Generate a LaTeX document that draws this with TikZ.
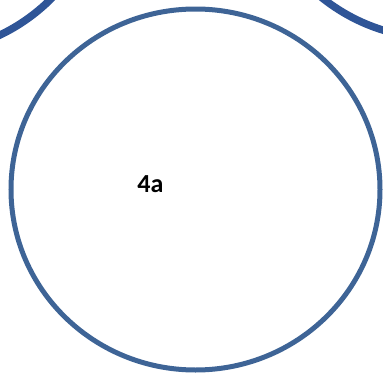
\documentclass[tikz,border=0pt]{standalone}
\usepackage{fontspec}
\setmainfont{Carlito}
\definecolor{ringblue}{RGB}{62,100,150}
\definecolor{darkblue}{RGB}{47,85,151}
\begin{document}
\begin{tikzpicture}[x=1pt,y=-1pt,
  ring/.style={draw=ringblue,line width=5pt},
  neighbour/.style={draw=darkblue,line width=7.5pt},
  numtext/.style={font=\bfseries\fontsize{26}{30}\selectfont,text=black,inner sep=0pt,anchor=center}]
\useasboundingbox (0,0) rectangle (383,375);
\begin{scope}
\clip (0,0) rectangle (383,375);
\draw[neighbour] (-79.7,-132) circle[radius=185];
\draw[neighbour] (437.6,-146.7) circle[radius=185];
\draw[ring] (195.5,189.5) ellipse[x radius=184.5,y radius=180.5];
\end{scope}
\node[numtext] (t) at (150.5,184) {4a};
\end{tikzpicture}
\end{document}
